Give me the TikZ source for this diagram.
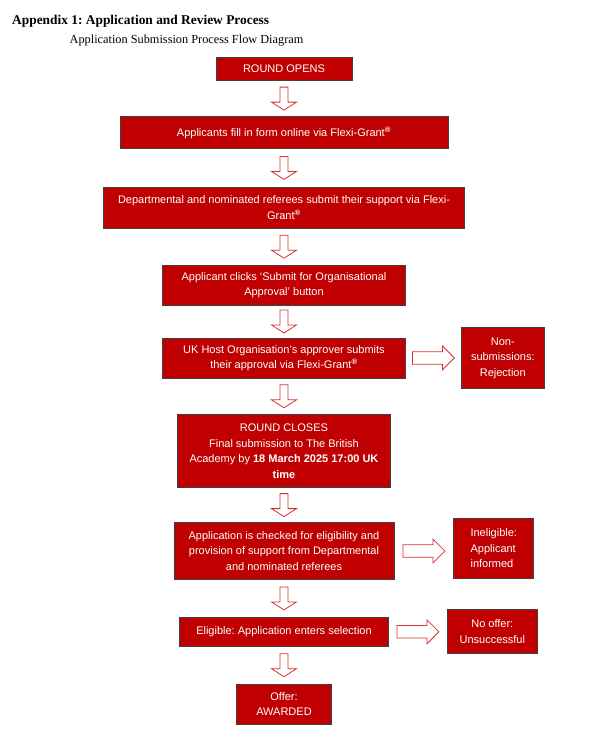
\documentclass[tikz,border=0pt]{standalone}
\usepackage{fontspec}
\setmainfont{Liberation Serif}
\newfontfamily\arialfont{Liberation Sans}
\usepackage{tikz}
\usetikzlibrary{positioning,calc}
\definecolor{boxred}{HTML}{C00000}
\definecolor{arrowred}{HTML}{D83030}
\def\downblock{++(-4,-11.5) -- ++(8,0) -- ++(0,15) -- ++(8.5,0) -- ++(-12.5,8) -- ++(-12.5,-8) -- ++(8.5,0) -- cycle}
\def\rightblock{++(-21,-6.25) -- ++(30,0) -- ++(0,-5.75) -- ++(12,12) -- ++(-12,12) -- ++(0,-5.75) -- ++(-30,0) -- cycle}
\def\regmark{\textsuperscript{\bfseries ®}}
\frenchspacing

\begin{document}
\begin{tikzpicture}[
    	x=1pt, y=-1pt,
    	stagebox/.style={draw=black!75, line width=0.8pt, fill=boxred, text=white, inner sep=0pt, align=center, font=\arialfont\fontsize{11}{15.5}\selectfont},
    	hollow/.style={draw=arrowred, line width=0.8pt, fill=white, line join=miter}
	]
	  \useasboundingbox (0,0) rectangle (592,740);
	  \node[anchor=base west, inner sep=0pt, font=\bfseries\fontsize{13.4}{16}\selectfont] (title) at (12,24) {Appendix 1: Application and Review Process};
	  \node[anchor=base west, inner sep=0pt, font=\fontsize{12.3}{15}\selectfont] (subtitle) at (69.5,43.3) {Application Submission Process Flow Diagram};
	  % main column
	  \node[stagebox, minimum width=136pt, minimum height=23.4pt] (open) at (284,69) {ROUND OPENS};
	  \node[stagebox, minimum width=328pt, minimum height=32pt, below=35pt of open] (fillin) {Applicants fill in form online via Flexi-Grant\regmark};
	  \node[stagebox, minimum width=361pt, minimum height=41pt, below=38pt of fillin] (referees) {Departmental and nominated referees submit their support via Flexi-\\Grant\regmark};
	  \node[stagebox, minimum width=243pt, minimum height=40pt, below=36pt of referees] (clicks) {Applicant clicks ‘Submit for Organisational\\Approval’ button};
	  \node[stagebox, minimum width=243pt, minimum height=40pt, below=32pt of clicks] (approver) {UK Host Organisation’s approver submits\\their approval via Flexi-Grant\regmark};
	  \node[stagebox, minimum width=213pt, minimum height=73pt, below=36pt of approver] (closes) {ROUND CLOSES\\Final submission to The British\\Academy by \textbf{18 March 2025 17:00 UK}\\\textbf{time}};
	  \node[stagebox, minimum width=220pt, minimum height=57pt, below=34pt of closes] (check) {Application is checked for eligibility and\\provision of support from Departmental\\and nominated referees};
	  \node[stagebox, minimum width=209pt, minimum height=29pt, below=37pt of check] (eligible) {Eligible: Application enters selection};
	  \node[stagebox, minimum width=95pt, minimum height=40pt, below=37pt of eligible] (offer) {Offer:\\AWARDED};
	  % side outcomes
	  \node[stagebox, minimum width=83pt, minimum height=61pt, right=55pt of approver] (nonsub) {Non-\\submissions:\\Rejection};
	  \node[stagebox, align=left, minimum width=80pt, minimum height=60pt, right=59pt of check, yshift=2.5pt] (inelig) {Ineligible:\\Applicant\\informed};
	  \node[stagebox, minimum width=90pt, minimum height=44pt, right=58pt of eligible] (nooffer) {No offer:\\Unsuccessful};
	  % block arrows
	  \foreach \a/\b in {open/fillin, fillin/referees, referees/clicks, clicks/approver, approver/closes, closes/check, check/eligible, eligible/offer}
	    \draw[hollow] ($(\a.south)!0.5!(\b.north)$) \downblock;
	  \foreach \a/\b in {approver/nonsub, check/inelig, eligible/nooffer}
	    \draw[hollow] ($(\a.east)!0.5!(\a.east -| \b.west)$) \rightblock;
    \end{tikzpicture}
\end{document}
